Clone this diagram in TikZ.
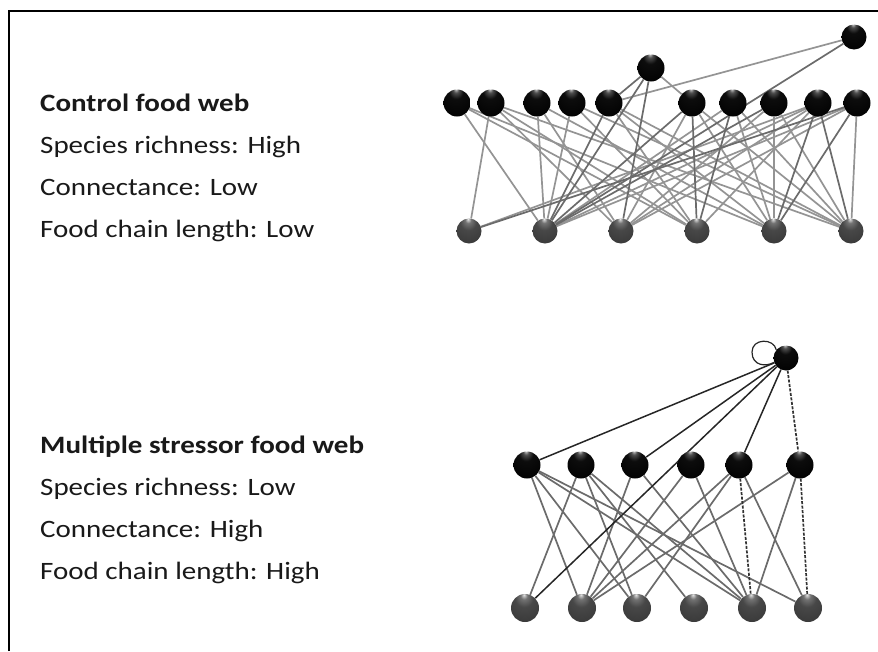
\documentclass[tikz,border=0pt]{standalone}
\usepackage{fontspec}
\setmainfont{Carlito}[FakeStretch=1.16]
\usetikzlibrary{backgrounds}
\pgfdeclareradialshading{sphblack}{\pgfpoint{-2bp}{26bp}}{color(0bp)=(white!80!black); color(5bp)=(black!70); color(13bp)=(black!95); color(40bp)=(black); color(50bp)=(black!85); color(60bp)=(black!85)}
\pgfdeclareradialshading{sphgray}{\pgfpoint{-2bp}{24bp}}{color(0bp)=(white!90!black); color(6bp)=(black!55); color(16bp)=(black!72); color(38bp)=(black!78); color(50bp)=(black!92); color(60bp)=(black!92)}
\tikzset{
  txt/.style={anchor=base west, inner sep=0pt, text=black!90, font=\fontsize{25}{29}\selectfont},
  hdr/.style={txt, font=\fontsize{25}{29}\selectfont\bfseries},
  blackball/.style={circle, inner sep=0pt, minimum size=#1, shading=sphblack},
  grayball/.style={circle, inner sep=0pt, minimum size=#1, shading=sphgray},
  web/.style={draw=black!42, line width=1.7pt},
  webdark/.style={draw=black!58, line width=1.7pt},
  pred/.style={draw=black!85, line width=1.5pt},
  preddash/.style={draw=black!80, line width=1.7pt, dash pattern=on 3pt off 1.5pt},
  frameline/.style={draw=black, line width=2pt}
}
\begin{document}
\begin{tikzpicture}[x=1pt, y=-1pt]
\useasboundingbox (0,0) rectangle (878,651);
% frame
\coordinate (fbl) at (8.5,651);
\coordinate (ftl) at (8.5,10.5);
\coordinate (ftr) at (878,10.5);
\draw[frameline] (fbl) -- (ftl) -- (ftr);

% texts
\node[hdr] (h1) at (40,111) {Control food web};
\node[txt] (l11) at (40,153) {Species richness: High};
\node[txt] (l12) at (40,195) {Connectance: Low};
\node[txt] (l13) at (40,237) {Food chain length: Low};
\node[hdr] (h2) at (40,453) {Multiple stressor food web};
\node[txt] (l21) at (40,495) {Species richness: Low};
\node[txt] (l22) at (40,537) {Connectance: High};
\node[txt] (l23) at (40,579) {Food chain length: High};

% control web nodes
\node[blackball=25pt] (T1) at (854,37) {};
\node[blackball=27pt] (T2) at (651,68) {};
\foreach \n/\x in {1/457,2/491,3/537,4/572,5/609,6/692,7/733,8/774,9/818,10/857}
  \node[blackball=27pt] (R\n) at (\x,103) {};
\foreach \n/\x in {1/469,2/545,3/621,4/697,5/774,6/851}
  \node[grayball=25pt] (B\n) at (\x,231) {};

% stressor web nodes
\node[blackball=25pt] (P) at (786,358) {};
\foreach \n/\x in {1/527,2/581,3/635,4/691,5/739,6/800}
  \node[blackball=27pt] (M\n) at (\x,465) {};
\foreach \n/\x in {1/525,2/582,3/637,4/694,5/752,6/808}
  \node[grayball=28pt] (G\n) at (\x,608) {};

\begin{pgfonlayer}{background}
\foreach \a/\b in {R1/B2, R1/B4, R1/B5, R2/B1, R2/B3, R2/B4, R2/B6, R3/B2, R3/B3, R3/B5,
  R4/B2, R4/B4, R4/B6, R5/B4, R5/B5, R5/B6, R6/B3, R6/B5, R6/B6,
  R7/B2, R7/B5, R7/B6, R8/B3, R8/B5, R8/B6,
  R9/B1, R9/B2, R9/B3, R9/B4, R10/B2, R10/B3, R10/B6, T1/R5, T2/R6}
  \draw[web] (\a) -- (\b);
\foreach \a/\b in {R5/B2, R6/B2, R6/B4, R7/B4, R9/B5, R9/B6, R10/B1, R10/B5, T1/B2, T2/R5, T2/B3, T2/B2, R8/B2}
  \draw[webdark] (\a) -- (\b);
% stressor web edges
\foreach \a/\b in {M1/G2, M1/G3, M1/G5, M1/G6, M2/G1, M2/G3, M2/G4, M2/G5, M3/G2, M3/G5,
  M4/G2, M4/G5, M5/G2, M5/G3, M5/G6, M6/G2, M6/G5}
  \draw[webdark] (\a) -- (\b);
\foreach \a/\b in {P/M1, P/M3, P/G1, P/M5}
  \draw[pred] (\a) -- (\b);
\foreach \a/\b in {P/M6, M5/G5, M6/G6}
  \draw[preddash] (\a) -- (\b);
\end{pgfonlayer}
% cannibal loop
\draw[pred, line width=1.2pt] (P.140) .. controls (774,338) and (752,338) .. (752,352)
  .. controls (752,366) and (766,367) .. (P.200);
\end{tikzpicture}
\end{document}
